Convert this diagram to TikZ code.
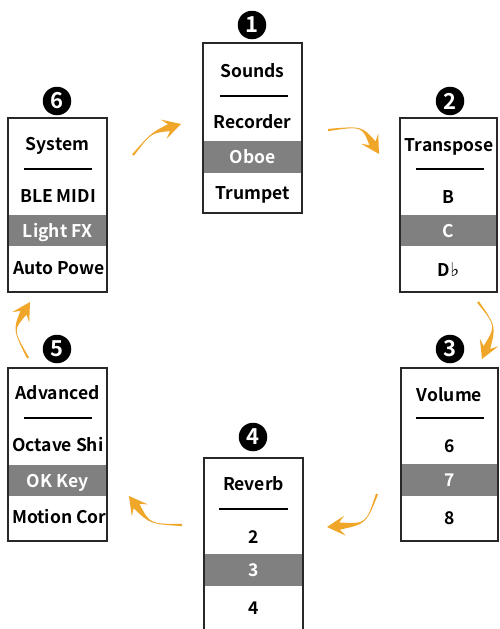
\documentclass[tikz,border=0pt]{standalone}
\usepackage{fontspec}
\setmainfont{Noto Sans CJK SC}[BoldFont={Noto Sans CJK SC Bold}]
\newfontfamily\symf{DejaVu Sans}
\usetikzlibrary{calc}
\definecolor{arrowc}{RGB}{240,166,40}
\definecolor{bandc}{RGB}{128,128,128}
\definecolor{linec}{RGB}{40,40,40}
\newcommand\tarrow[3]{%
  \path (#3) coordinate (tH) ($(tH)!18pt!(#2)$) coordinate (tB)
        ($(tH)!12.5pt!(#2)$) coordinate (tN);
  \fill[arrowc] ($(#1)!1.1pt!90:(#2)$) .. controls (#2) .. ($(tN)!3.6pt!-90:(#2)$)
     -- ($(tB)!10pt!-90:(#2)$) -- (tH) -- ($(tB)!10pt!90:(#2)$)
     -- ($(tN)!3.6pt!90:(#2)$) .. controls (#2) .. ($(#1)!1.1pt!-90:(#2)$) -- cycle;
}
\begin{document}
\begin{tikzpicture}[x=1pt,y=-1pt,
  boxst/.style={draw=linec, line width=1.4pt, inner sep=0pt},
  band/.style={fill=bandc},
  sep/.style={draw=black, line width=1.2pt},
  itm/.style={font=\bfseries\fontsize{17.5}{19}\selectfont, anchor=base, inner sep=0pt, text=black},
  hitm/.style={itm, text=white},
  litm/.style={itm, anchor=base west},
  numc/.style={circle, fill=black, text=white, minimum size=28.5pt, inner sep=0pt,
     font=\bfseries\fontsize{22}{22}\selectfont}]
\useasboundingbox (0,0) rectangle (499,629);
\clip (0,0) rectangle (499,629);
\fill[white] (0,0) rectangle (499,629);

% ---- Box 1: Sounds
\fill[band] (203,141) rectangle (302,173);
\node[itm] (t1) at (252.5,77) {Sounds};
\draw[sep] (220,96) -- (288,96);
\node[itm] (t1a) at (252.5,128) {Recorder};
\node[hitm] (t1b) at (252.5,163) {Oboe};
\node[itm] (t1c) at (252.5,199) {Trumpet};
\node[boxst, minimum width=99pt, minimum height=170pt] (b1) at (252.5,128) {};
\node[numc] (n1) at (252,25) {1};

% ---- Box 2: Transpose
\fill[band] (400,215) rectangle (497,246);
\node[itm] (t2) at (449,151) {Transpose};
\draw[sep] (416,169) -- (484,169);
\node[itm] (t2a) at (448.5,203) {B};
\node[hitm] (t2b) at (448.5,237) {C};
\node[itm] (t2c) at (448.5,276) {D{\symf\fontsize{19}{19}\selectfont ♭}};
\node[boxst, minimum width=97pt, minimum height=174pt] (b2) at (448.5,205) {};
\node[numc] (n2) at (450,101) {2};

% ---- Box 3: Volume
\fill[band] (401,464) rectangle (498,496);
\node[itm] (t3) at (449.5,401) {Volume};
\draw[sep] (416,418) -- (484,418);
\node[itm] (t3a) at (449.5,452) {6};
\node[hitm] (t3b) at (449.5,486) {7};
\node[itm] (t3c) at (449.5,524) {8};
\node[boxst, minimum width=97pt, minimum height=173pt] (b3) at (449.5,454.5) {};
\node[numc] (n3) at (450,349) {3};

% ---- Box 4: Reverb
\fill[band] (204,554) rectangle (303,586);
\node[itm] (t4) at (253.5,490) {Reverb};
\draw[sep] (219,509) -- (288,509);
\node[itm] (t4a) at (253.5,543) {2};
\node[hitm] (t4b) at (253.5,576) {3};
\node[itm] (t4c) at (253.5,614) {4};
\node[boxst, minimum width=99pt, minimum height=190pt] (b4) at (253.5,553) {};
\node[numc] (n4) at (253,437) {4};

% ---- Box 5: Advanced
\fill[band] (8,465) rectangle (107,496);
\node[itm] (t5) at (57.5,399) {Advanced};
\draw[sep] (24,418) -- (92,418);
\begin{scope}
\clip (8,368) rectangle (106.3,541);
\node[litm] (t5a) at (12,451) {Octave Shi};
\node[litm] (t5c) at (12,523) {Motion Cor};
\end{scope}
\node[hitm] (t5b) at (57.5,487) {OK Key};
\node[boxst, minimum width=99pt, minimum height=173pt] (b5) at (57.5,454.5) {};
\node[numc] (n5) at (57,349) {5};

% ---- Box 6: System
\fill[band] (8,215) rectangle (107,246);
\node[itm] (t6) at (57.5,150) {System};
\draw[sep] (24,169) -- (92,169);
\node[itm] (t6a) at (58,202) {BLE MIDI};
\node[hitm] (t6b) at (57.5,237) {Light FX};
\begin{scope}
\clip (8,118) rectangle (106.3,292);
\node[litm] (t6c) at (13,274) {Auto Powe};
\end{scope}
\node[boxst, minimum width=99pt, minimum height=174pt] (b6) at (57.5,205) {};
\node[numc] (n6) at (57,101) {6};

% ---- arrows
\coordinate (a1t) at (133,155); \coordinate (a1c) at (151,133); \coordinate (a1h) at (181,124);
\coordinate (a2t) at (328,130); \coordinate (a2c) at (362,126); \coordinate (a2h) at (379,154);
\coordinate (a3t) at (478,302); \coordinate (a3c) at (496,326); \coordinate (a3h) at (482,359);
\coordinate (a4t) at (377,494); \coordinate (a4c) at (366,524); \coordinate (a4h) at (327,527);
\coordinate (a5t) at (182,525); \coordinate (a5c) at (150,524); \coordinate (a5h) at (129,496);
\coordinate (a6t) at (28,358);  \coordinate (a6c) at (13,330);  \coordinate (a6h) at (30,302);
\tarrow{a1t}{a1c}{a1h}
\tarrow{a2t}{a2c}{a2h}
\tarrow{a3t}{a3c}{a3h}
\tarrow{a4t}{a4c}{a4h}
\tarrow{a5t}{a5c}{a5h}
\tarrow{a6t}{a6c}{a6h}
\end{tikzpicture}
\end{document}
